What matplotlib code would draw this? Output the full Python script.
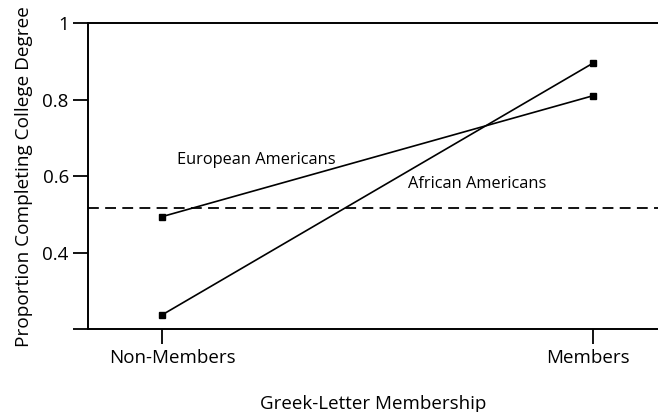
import matplotlib
matplotlib.use("Agg")
import matplotlib.pyplot as plt
from matplotlib.transforms import ScaledTranslation

plt.rcParams['font.family'] = ['Open Sans', 'DejaVu Sans']

# data
groups = ["Non-Members", "Members"]
european = [0.494, 0.810]
african = [0.237, 0.895]
overall = 0.518
yticks = [0.2, 0.4, 0.6, 0.8, 1.0]
ytick_labels = ["", "0.4", "0.6", "0.8", "1"]

fig = plt.figure(figsize=(6.58, 4.12), dpi=100)
ax = fig.add_axes([0.1342, 0.2007, 0.8658, 0.7434])

xs = list(range(len(groups)))
ax.plot(xs, european, color='black', lw=1.2, marker='s', ms=5, clip_on=False)
ax.plot(xs, african, color='black', lw=1.2, marker='s', ms=5, clip_on=False)
ax.axhline(overall, color='black', lw=1.3, ls=(0, (6, 3.5)))

ax.text(0.036, 0.642, "European Americans", fontsize=11.8, va='center', ha='left')
ax.text(0.571, 0.579, "African Americans", fontsize=11.8, va='center', ha='left')

ax.set_xlim(-0.170, 1.151)
ax.set_ylim(0.2, 1.0)
ax.set_xticks(xs)
ax.set_xticklabels(groups, fontsize=13.5)
ax.set_yticks(yticks)
ax.set_yticklabels(ytick_labels, fontsize=13.5)
ax.tick_params(direction='out', length=11, width=1.3, pad=3)

# the scanned labels sit a little off their ticks
for lab, dx in zip(ax.get_xticklabels(), [0.11, -0.05]):
    lab.set_transform(lab.get_transform() + ScaledTranslation(dx, 0, fig.dpi_scale_trans))

ax.spines['right'].set_visible(False)
for s in ['left', 'top', 'bottom']:
    ax.spines[s].set_linewidth(1.4)

ax.set_xlabel("Greek-Letter Membership", fontsize=13.5, labelpad=20)
ax.set_ylabel("Proportion Completing College Degree", fontsize=13.7, labelpad=7)

fig.savefig("out.png", dpi=100)
